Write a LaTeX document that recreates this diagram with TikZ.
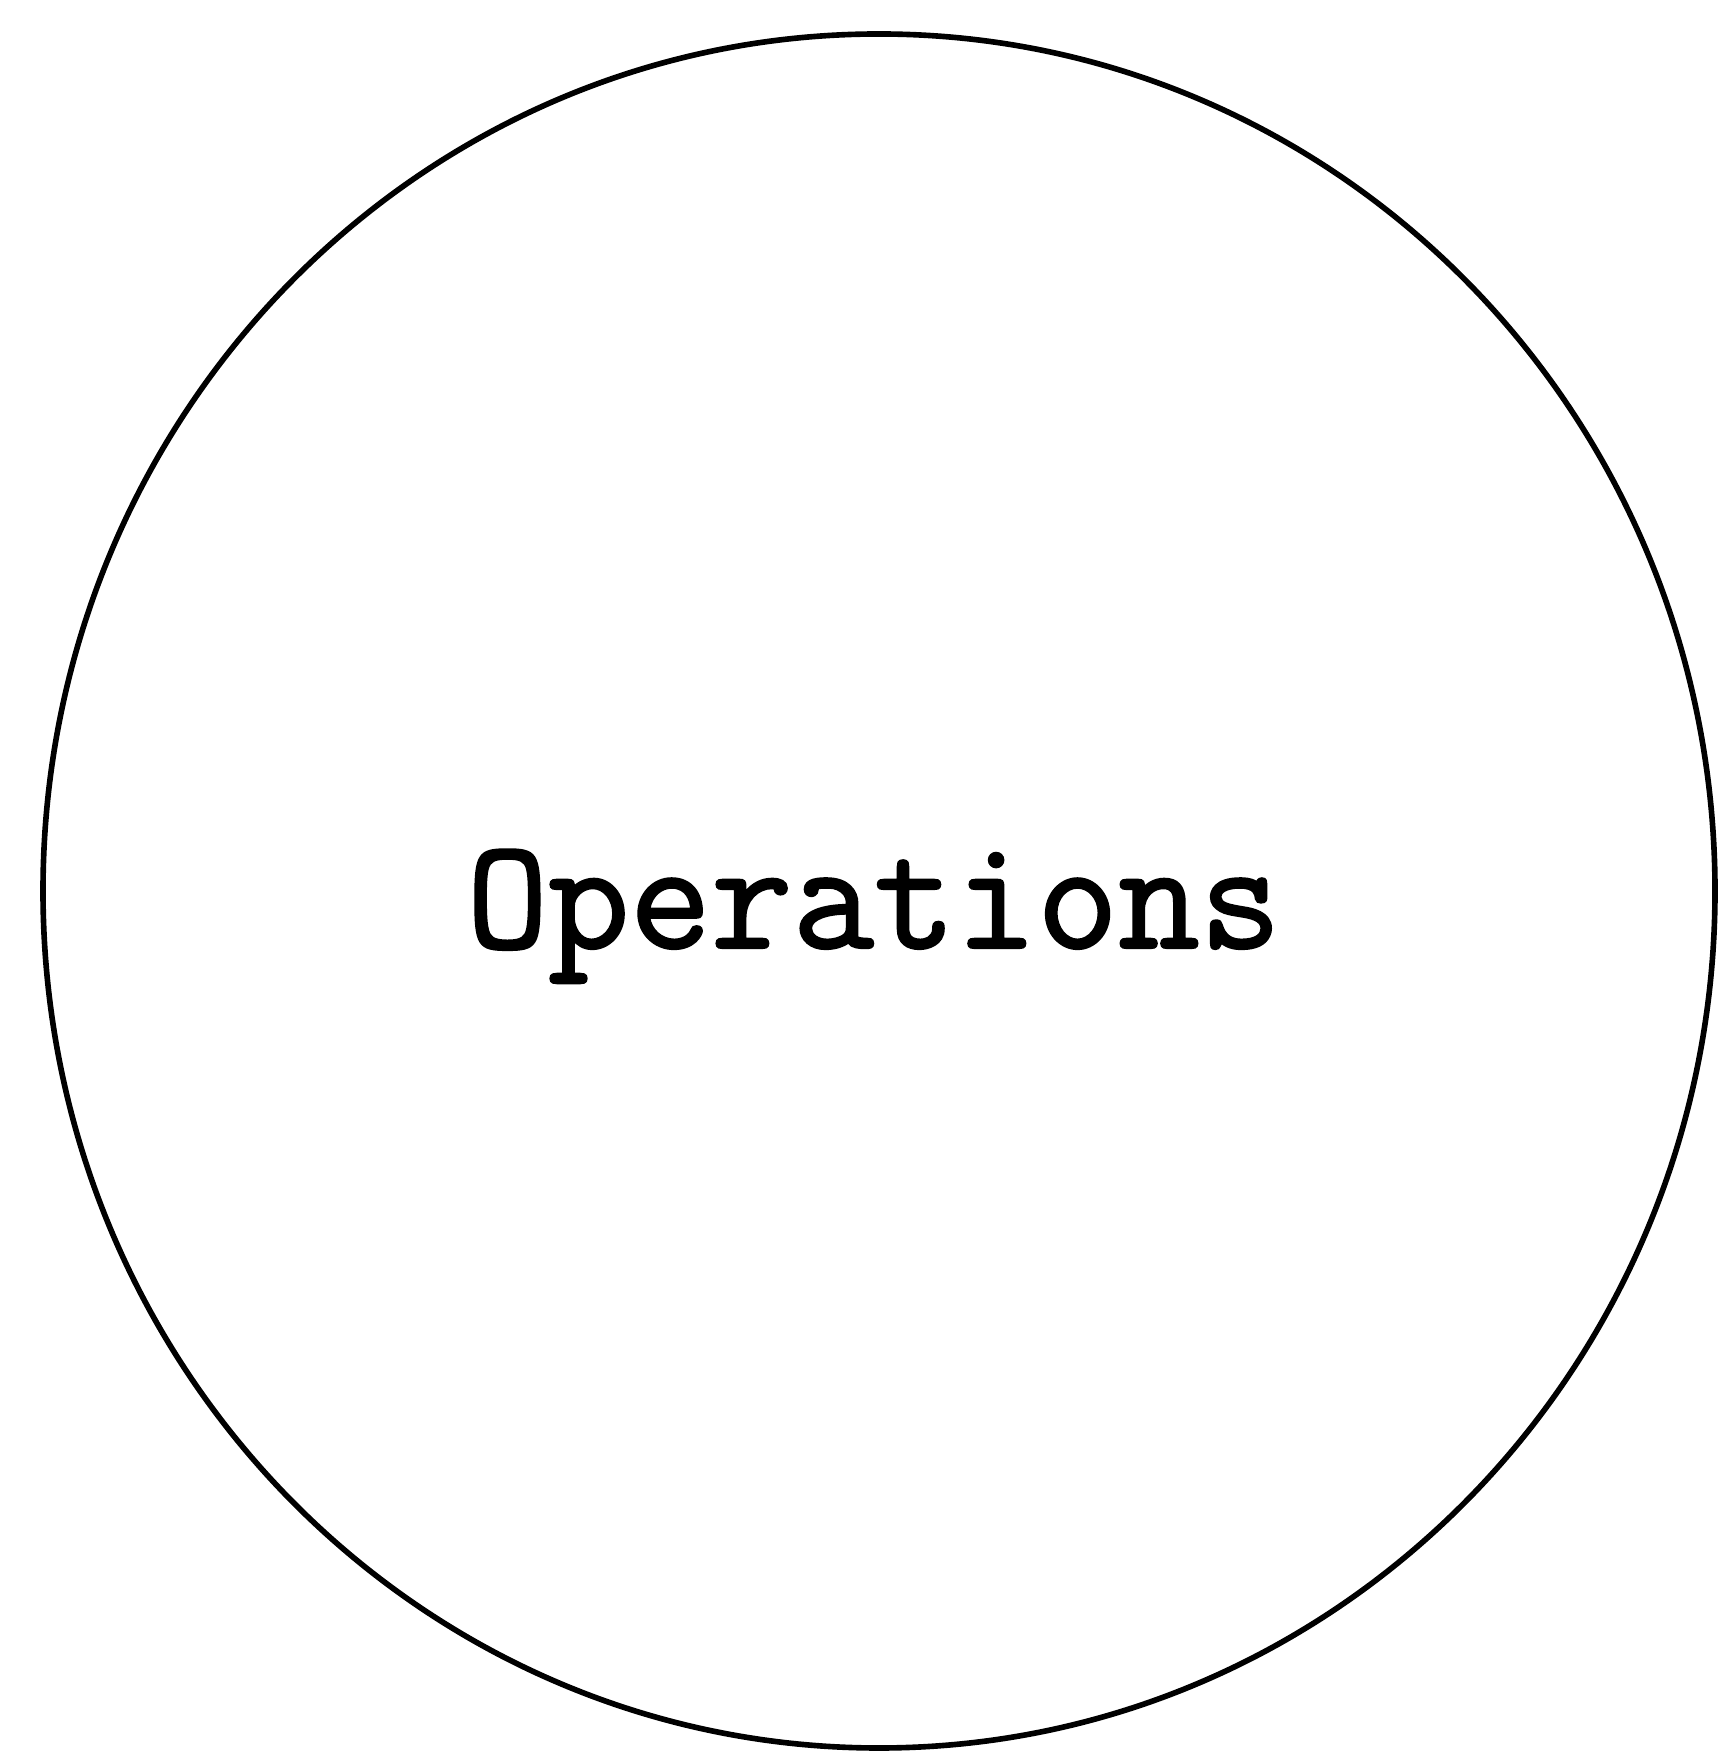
\documentclass[tikz,border=0pt]{standalone}
\usepackage{fontspec}
\newfontfamily\bubblefont[FakeBold=1.5]{Latin Modern Mono}
\usetikzlibrary{shapes.geometric}
\begin{document}
\begin{tikzpicture}[
    bubble/.style={ellipse, draw, line width=1.6pt, minimum width=16.72cm, minimum height=17.14cm, inner sep=0pt},
    label/.style={font=\fontsize{45}{52}\bubblefont, inner sep=0pt, anchor=base}
]
\useasboundingbox (0, 0) rectangle (17.17, 17.58);

% Process bubble
\node[bubble] (operations) at (8.79, 8.67) {};
\node[label] (opname) at (8.74, 8.10) {Operations};

\end{tikzpicture}
\end{document}
